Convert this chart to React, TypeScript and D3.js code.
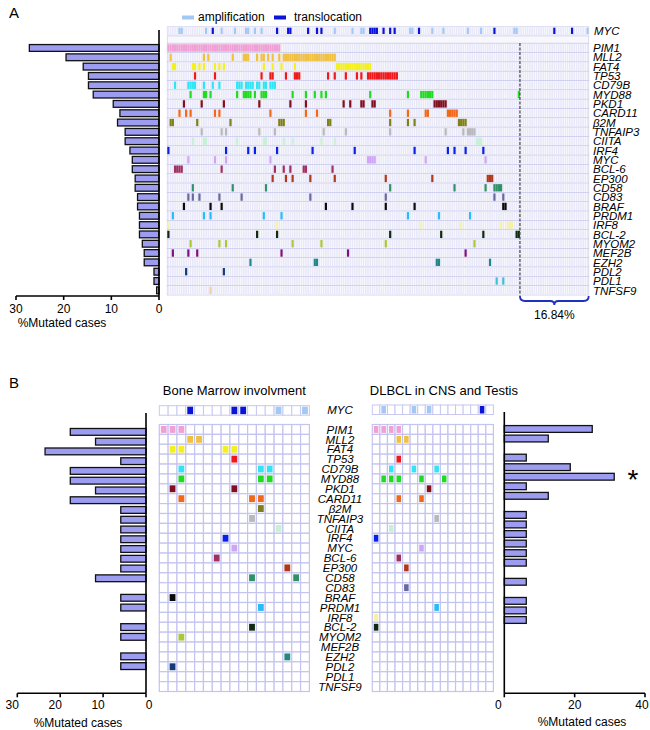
import React from "react";
import * as d3 from "d3";

type Run = number | [number, number];

const genes = ["PIM1","MLL2","FAT4","TP53","CD79B","MYD88","PKD1","CARD11","β2M","TNFAIP3","CIITA","IRF4","MYC","BCL-6","EP300","CD58","CD83","BRAF","PRDM1","IRF8","BCL-2","MYOM2","MEF2B","EZH2","PDL2","PDL1","TNFSF9"];
const geneColors = ["#f0a0d4","#f0c040","#f4f020","#f01818","#30e4f4","#20dc20","#801020","#f06818","#808018","#b8b8bc","#c8f0d4","#0a20e8","#d0a4f4","#a03060","#b03818","#309068","#6868a0","#0a0a0a","#28bcf4","#f6f0a8","#102a12","#a8c834","#801080","#208888","#143a78","#40c0d0","#f4cca4"];

// Panel A: % mutated cases (left bars)
const pctA = [27.2,19.5,15.9,14.8,14.8,13.8,9.6,8.2,8.7,7.1,7.1,6.1,5.6,5.6,5.0,5.0,4.5,4.5,4.1,4.1,4.1,3.5,3.1,3.1,1.05,1.05,0.5];
const nCasesA = 190;
const nMutatedA = 159;
const mutA: Run[][] = [
  [[0,50]],
  [1,16,18,29,[34,36],40,[42,43],45,47,50,[52,75]],
  [[2,3],[11,12],14,16,21,23,25,43,47,51,57,[76,91]],
  [12,21,42,[46,47],53,[57,59],72,75,80,85,87,[90,103]],
  [3,[9,12],16,20,23,[31,33],[35,38],[40,41],[43,44],[46,48]],
  [10,[16,17],19,31,[34,37],39,[42,44],56,62,66,69,71,91,108,[114,119],158],
  [7,15,25,41,55,62,79,82,[87,88],[92,93],[120,125]],
  [5,8,10,21,23,46,62,67,100,108,[116,117],[126,130]],
  [[1,2],13,28,[50,52],[72,73],100,108,111,[131,134]],
  [15,24,26,41,48,70,80,100,125,133,[135,138]],
  [11,[16,17],31,[43,44],52,56,69,75,[139,141]],
  [0,26,36,39,49,65,84,111,126,129,134,142],
  [9,21,26,46,[90,93],116,143],
  [[3,6],24,48,52,55,[61,62],74],
  [47,53,56,64,75,98,119,[144,146]],
  [11,29,44,100,129,143,[147,150]],
  [9,11,14,23,33,64,98,147,151],
  [7,19,24,71,83,98,111,[151,152]],
  [2,16,19,43,51,108,122,136],
  [0,49,114,132,150,[153,155]],
  [0,40,49,100,123,142,[157,158]],
  [10,23,26,56,69,98,138],
  [2,9,13,51,81,134],
  [37,[66,67],[121,122],145],
  [8,25],
  [148,151],
  [19],
];
const mycAmpA: Run[] = [[5,6],17,24,30,[35,36],39,42,75,83,87,88,[109,110],119,124,135,141,[156,157],189];
const mycTransA: Run[] = [20,49,54,55,63,67,69,[91,94],97,100,102,113,147,174,182];
const unmutLabel = "16.84%";

// Panel B
const nBM = 17;
const nCNS = 16;
const mutBM: number[][] = [
  [0,1,2],[3,4],[1,2,7,8],[8],[2,11,12],[2,11,12],[1,8],[2,10,11],[11],[10],[13],[7],[8],[6],[14],[10,15],[],[1],[11],[],[10],[2],[],[14],[1],[],[],
];
const mutCNS: number[][] = [
  [0,1,2,3],[3,4],[],[3],[2,5,8],[1,2,3,6,9],[7],[3,6],[],[8],[2],[0],[6],[3],[4],[],[4],[],[8],[0],[0],[],[],[],[],[],[],
];
const mycAmpBM = [13,16];
const mycTransBM = [3,8,9];
const mycAmpCNS = [1,5,7];
const mycTransCNS = [14];
const ticksA = [0,10,20,30];
const ticksBL = [0,10,20,30];
const ticksBR = [0,20,40];

const AMP = "#a4c8f4";
const TRANS = "#0a14d8";
const BAR = "#9c9cf0";
const FONT = "'Liberation Sans', Arial, sans-serif";
const LBL = 11.5;

function expand(runs: Run[]): number[] {
  const out: number[] = [];
  runs.forEach((r) => {
    if (Array.isArray(r)) { for (let i = r[0]; i <= r[1]; i++) out.push(i); }
    else out.push(r);
  });
  return out;
}

export default function App() {
  // ---------- Panel A scales ----------
  const xA = d3.scaleLinear().domain([0, nCasesA]).range([167.3, 588.7]);
  const cwA = xA(1) - xA(0);
  const yA = d3.scaleBand<string>().domain(genes).range([43.3, 295]);
  const rhA = yA.bandwidth();
  const bxA = d3.scaleLinear().domain([0, 30]).range([159, 16]);
  const mycA = { y0: 26.7, h: 8.3 };

  const cols = d3.range(nCasesA);

  // ---------- Panel B scales ----------
  const xBL = d3.scaleLinear().domain([0, nBM]).range([159.3, 309.4]);
  const xBR = d3.scaleLinear().domain([0, nCNS]).range([372.3, 493.4]);
  const yB = d3.scaleBand<string>().domain(genes).range([424.5, 691.5]);
  const rhB = yB.bandwidth();
  const byBL = d3.scaleBand<string>().domain(genes).range([427, 427 + 27 * 9.76]);
  const byBR = d3.scaleBand<string>().domain(genes).range([424.2, 424.2 + 27 * 9.55]);
  const bxBL = d3.scaleLinear().domain([0, 30]).range([146, 17.3]);
  const bxBR = d3.scaleLinear().domain([0, 40]).range([504.3, 645]);
  const pctBM = mutBM.map((m) => (m.length / nBM) * 100);
  const pctCNS = mutCNS.map((m) => (m.length / nCNS) * 100);

  const bracePath = (() => {
    const a = xA(nMutatedA), b = xA(nCasesA), m = (a + b) / 2, y = 296;
    return `M${a},${y} Q${a},${y + 5} ${a + 5},${y + 5} L${m - 4},${y + 5} Q${m},${y + 5} ${m},${y + 9} Q${m},${y + 5} ${m + 4},${y + 5} L${b - 5},${y + 5} Q${b},${y + 5} ${b},${y}`;
  })();

  const gridB = (xs: d3.ScaleLinear<number, number>, n: number, muts: number[][], amp: number[], trans: number[], mycY: number) => {
    const cw = xs(1) - xs(0);
    return (
      <g>
        {d3.range(n).map((c) => (
          <rect key={"m" + c} x={xs(c)} y={mycY} width={cw} height={9.5} fill="#fff" stroke="#c8c8f0" strokeWidth={1} />
        ))}
        {amp.map((c) => (
          <rect key={"ma" + c} x={xs(c) + 1.5} y={mycY + 1} width={cw - 3} height={7.5} fill={AMP} />
        ))}
        {trans.map((c) => (
          <rect key={"mt" + c} x={xs(c) + 1.5} y={mycY + 1} width={cw - 3} height={7.5} fill={TRANS} />
        ))}
        {genes.map((g, gi) => (
          <g key={g}>
            {d3.range(n).map((c) => (
              <rect key={c} x={xs(c)} y={yB(g)!} width={cw} height={rhB} fill="#fff" stroke="#c4c4f0" strokeWidth={1.2} />
            ))}
            {muts[gi].map((c) => (
              <rect key={"f" + c} x={xs(c) + 1.5} y={yB(g)! + 1.5} width={cw - 3} height={rhB - 3} fill={geneColors[gi]} />
            ))}
          </g>
        ))}
      </g>
    );
  };

  return (
    <svg width={650} height={730} style={{ position: "absolute", left: 0, top: 0 }} fontFamily={FONT}>
      <rect width={650} height={730} fill="#fff" />
      {/* ================= Panel A ================= */}
      <text x={9} y={18} fontSize={15}>A</text>
      <rect x={182} y={15.5} width={12} height={4} fill={AMP} />
      <text x={198} y={21} fontSize={12}>amplification</text>
      <rect x={274} y={15.5} width={12} height={4} fill={TRANS} />
      <text x={294} y={21} fontSize={12}>translocation</text>

      {/* MYC row */}
      <rect x={xA(0)} y={mycA.y0} width={xA(nCasesA) - xA(0)} height={mycA.h} fill="#fff" stroke="#d4d4f0" strokeWidth={0.8} />
      {cols.map((c) => (
        <rect key={"mb" + c} x={xA(c) + 0.3} y={mycA.y0 + 0.5} width={cwA - 0.6} height={mycA.h - 1} fill="#e8e8f8" />
      ))}
      {expand(mycAmpA).map((c) => (
        <rect key={"ma" + c} x={xA(c)} y={mycA.y0 + 1} width={cwA} height={mycA.h - 2} fill={AMP} />
      ))}
      {expand(mycTransA).map((c) => (
        <rect key={"mt" + c} x={xA(c)} y={mycA.y0 + 1} width={cwA} height={mycA.h - 2} fill={TRANS} />
      ))}
      <text x={594} y={mycA.y0 + mycA.h - 0.5} fontSize={LBL} fontStyle="italic">MYC</text>
      <rect x={xA(0)} y={36} width={xA(nCasesA) - xA(0)} height={7.3} fill="#f7f7fc" stroke="#d4d4f0" strokeWidth={0.8} />

      {/* main grid */}
      {genes.map((g, gi) => (
        <g key={"A" + g}>
          <rect x={xA(0)} y={yA(g)!} width={xA(nCasesA) - xA(0)} height={rhA} fill="#fff" stroke="#cacaee" strokeWidth={0.8} />
          {cols.map((c) => (
            <rect key={c} x={xA(c) + 0.3} y={yA(g)! + 0.6} width={cwA - 0.6} height={rhA - 1.2} fill="#e8e8f8" />
          ))}
          {expand(mutA[gi]).map((c) => (
            <rect key={"f" + c} x={xA(c)} y={yA(g)! + 1} width={cwA} height={rhA - 2} fill={geneColors[gi]} />
          ))}
          <text x={593} y={yA(g)! + rhA / 2 + 4.2} fontSize={LBL} fontStyle="italic">{g}</text>
        </g>
      ))}
      <line x1={xA(nMutatedA)} x2={xA(nMutatedA)} y1={43} y2={295.5} stroke="#444" strokeWidth={1.2} strokeDasharray="3,1.5" />
      <path d={bracePath} fill="none" stroke="#2030c0" strokeWidth={1.8} />
      <text x={(xA(nMutatedA) + xA(nCasesA)) / 2} y={319} fontSize={12} textAnchor="middle">{unmutLabel}</text>

      {/* left bars A */}
      {genes.map((g, gi) => (
        <rect key={"ba" + g} x={bxA(pctA[gi])} y={yA(g)! + rhA / 2 - 3.4} width={bxA(0) - bxA(pctA[gi])} height={6.8} fill={BAR} stroke="#111" strokeWidth={1.3} />
      ))}
      <line x1={bxA(0)} x2={bxA(0)} y1={30} y2={296} stroke="#000" strokeWidth={1.6} />
      <line x1={bxA(30)} x2={bxA(0)} y1={296} y2={296} stroke="#000" strokeWidth={1.6} />
      {ticksA.map((t) => (
        <g key={"ta" + t}>
          <line x1={bxA(t)} x2={bxA(t)} y1={296} y2={300} stroke="#000" strokeWidth={1.6} />
          <text x={bxA(t)} y={313} fontSize={12} textAnchor="middle">{t}</text>
        </g>
      ))}
      <text x={62} y={327} fontSize={12} textAnchor="middle">%Mutated cases</text>

      {/* ================= Panel B ================= */}
      <text x={9} y={388} fontSize={15}>B</text>
      <text x={(xBL(0) + xBL(nBM)) / 2} y={395} fontSize={13} textAnchor="middle">Bone Marrow involvment</text>
      <text x={(xBR(0) + xBR(nCNS)) / 2 + 11} y={395} fontSize={13} textAnchor="middle">DLBCL in CNS and Testis</text>

      {gridB(xBL, nBM, mutBM, mycAmpBM, mycTransBM, 405.7)}
      {gridB(xBR, nCNS, mutCNS, mycAmpCNS, mycTransCNS, 405)}

      <text x={340} y={414} fontSize={LBL} fontStyle="italic" textAnchor="middle">MYC</text>
      {genes.map((g) => (
        <text key={"lb" + g} x={340} y={yB(g)! + rhB / 2 + 4.2} fontSize={LBL} fontStyle="italic" textAnchor="middle">{g}</text>
      ))}

      {/* left bars B */}
      {genes.map((g, gi) => pctBM[gi] > 0 && (
        <rect key={"bbl" + g} x={bxBL(pctBM[gi])} y={byBL(g)! + byBL.bandwidth() / 2 - 3.4} width={bxBL(0) - bxBL(pctBM[gi])} height={6.8} fill={BAR} stroke="#111" strokeWidth={1.3} />
      ))}
      <line x1={bxBL(0)} x2={bxBL(0)} y1={413} y2={693.3} stroke="#000" strokeWidth={1.6} />
      <line x1={bxBL(30)} x2={bxBL(0)} y1={693.3} y2={693.3} stroke="#000" strokeWidth={1.6} />
      {ticksBL.map((t) => (
        <g key={"tbl" + t}>
          <line x1={bxBL(t)} x2={bxBL(t)} y1={693.3} y2={697.3} stroke="#000" strokeWidth={1.6} />
          <text x={bxBL(t) + (t === 0 ? 3 : -5)} y={709} fontSize={12} textAnchor="middle">{t}</text>
        </g>
      ))}
      <text x={78} y={727} fontSize={12} textAnchor="middle">%Mutated cases</text>

      {/* right bars B */}
      {genes.map((g, gi) => pctCNS[gi] > 0 && (
        <rect key={"bbr" + g} x={bxBR(0)} y={byBR(g)! + byBR.bandwidth() / 2 - 3.4} width={bxBR(pctCNS[gi]) - bxBR(0)} height={6.8} fill={BAR} stroke="#111" strokeWidth={1.3} />
      ))}
      <line x1={bxBR(0)} x2={bxBR(0)} y1={412} y2={693.3} stroke="#000" strokeWidth={1.6} />
      <line x1={bxBR(0)} x2={bxBR(40)} y1={693.3} y2={693.3} stroke="#000" strokeWidth={1.6} />
      {ticksBR.map((t) => (
        <g key={"tbr" + t}>
          <line x1={bxBR(t)} x2={bxBR(t)} y1={693.3} y2={697.3} stroke="#000" strokeWidth={1.6} />
          <text x={bxBR(t) + (t === 0 ? -6 : t === 40 ? -3 : 0)} y={709} fontSize={12} textAnchor="middle">{t}</text>
        </g>
      ))}
      <text x={582} y={726} fontSize={12} textAnchor="middle">%Mutated cases</text>
      <text x={633} y={489} fontSize={28} textAnchor="middle">*</text>
    </svg>
  );
}
